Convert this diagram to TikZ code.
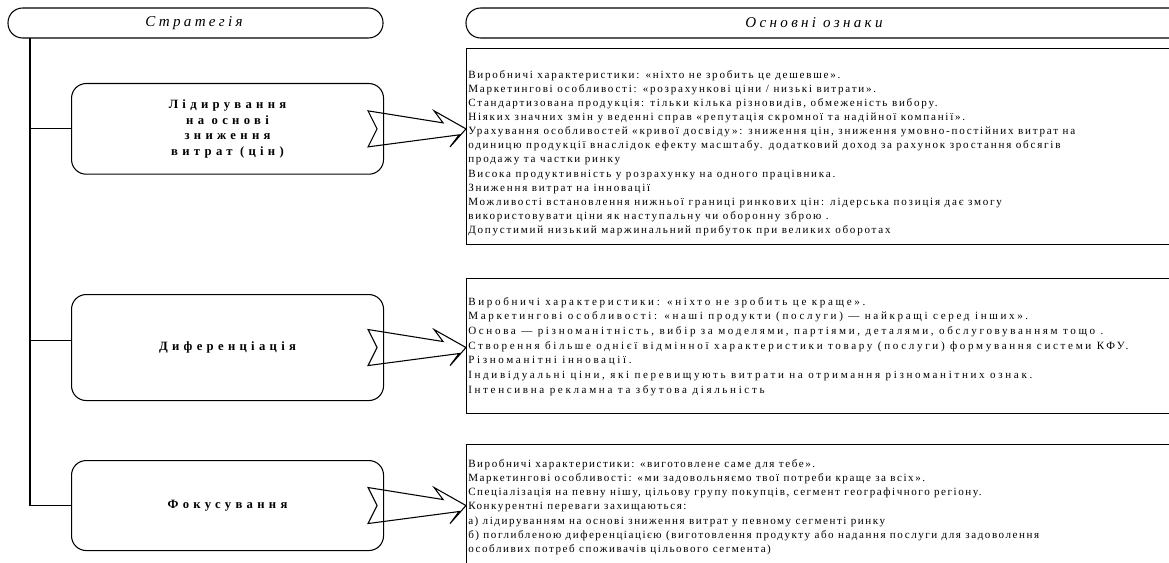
\documentclass[tikz,border=0pt]{standalone}
\usepackage{fontspec}
\setmainfont{Liberation Serif}
\newfontfamily\bodyfont[LetterSpace=16]{Liberation Serif}
\newfontfamily\bodyfontwide[LetterSpace=24]{Liberation Serif}
\newfontfamily\bodyfontnarrow[LetterSpace=14]{Liberation Serif}
\newfontfamily\labelfont[LetterSpace=34]{Liberation Serif}
\newfontfamily\headfont[LetterSpace=22]{Liberation Serif}
\usetikzlibrary{calc}
\tikzset{
  pill/.style={draw, line width=0.8pt, rounded corners=11pt},
  stratbox/.style={draw, line width=0.8pt, rounded corners=11pt},
  infobox/.style={draw, line width=0.8pt},
  bodytext/.style={anchor=north west, inner sep=0pt, align=left,
    font=\bodyfont\fontsize{8.3}{10.6}\selectfont},
  labeltext/.style={align=center, font=\labelfont\bfseries\fontsize{9.5}{11.6}\selectfont},
  headtext/.style={font=\headfont\itshape\fontsize{11.3}{13}\selectfont},
  conn/.style={line width=0.8pt},
  blockarrow/.style={draw, line width=0.8pt, line join=miter}
}
\begin{document}
\begin{tikzpicture}[x=0.75pt,y=-0.75pt]
\useasboundingbox (0,0) rectangle (1169,563);
\clip (0,0) rectangle (1169,563);
% headers
\draw[pill] (8,8) rectangle (383,38);
\node[headtext] (h1) at (194,23) {Стратегія};
\draw[pill] (466,8) rectangle (1190,38);
\node[headtext] (h2) at (814,23) {Основні ознаки};
\coordinate (trunk) at (30,38);
% strategy boxes
\node[stratbox, minimum width=234pt, minimum height=68pt, anchor=north west] (b1) at (71,83) {};
\node[labeltext] (l1) at (b1.center) {Лідирування\\на основі\\зниження\\витрат (цін)};
\node[stratbox, minimum width=234pt, minimum height=79.5pt, anchor=north west] (b2) at (71,294) {};
\node[labeltext] (l2) at (b2.center) {Диференціація};
\node[stratbox, minimum width=234pt, minimum height=67.5pt, anchor=north west] (b3) at (71,460) {};
\node[labeltext] (l3) at (b3.center) {Фокусування};
% trunk and branches
\draw[conn] (trunk) |- (b3.west);
\draw[conn] (b1.west) -- (b1.west -| trunk);
\draw[conn] ($(b2.west)+(0,-7)$) -- ($(b2.west -| trunk)+(0,-7)$);
% info boxes
\node[infobox, minimum width=560pt, minimum height=147pt, anchor=north west] (t1) at (466,48) {};
\node[infobox, minimum width=560pt, minimum height=101pt, anchor=north west] (t2) at (466,278) {};
\node[infobox, minimum width=560pt, minimum height=120pt, anchor=north west] (t3) at (466,444) {};
\node[bodytext] (x1) at (468,70) {Виробничі характеристики: «ніхто не зробить це дешевше».\\
Маркетингові особливості: «розрахункові ціни / низькі витрати».\\
Стандартизована продукція: тільки кілька різновидів, обмеженість вибору.\\
Ніяких значних змін у веденні справ «репутація скромної та надійної компанії».\\
Урахування особливостей «кривої досвіду»: зниження цін, зниження умовно-постійних витрат на\\
одиницю продукції внаслідок ефекту масштабу. додатковий доход за рахунок зростання обсягів\\
продажу та частки ринку\\
Висока продуктивність у розрахунку на одного працівника.\\
Зниження витрат на інновації\\
Можливості встановлення нижньої границі ринкових цін: лідерська позиція дає змогу\\
використовувати ціни як наступальну чи оборонну зброю .\\
Допустимий низький маржинальний прибуток при великих оборотах};
\node[bodytext, font=\bodyfontwide\fontsize{8.3}{11}\selectfont] (x2) at (468,297) {Виробничі характеристики: «ніхто не зробить це краще».\\
Маркетингові особливості: «наші продукти (послуги) — найкращі серед інших».\\
Основа — різноманітність, вибір за моделями, партіями, деталями, обслуговуванням тощо .\\
Створення більше однієї відмінної характеристики товару (послуги) формування системи КФУ.\\
Різноманітні інновації.\\
Індивідуальні ціни, які перевищують витрати на отримання різноманітних ознак.\\
Інтенсивна рекламна та збутова діяльність};
\node[bodytext, font=\bodyfontnarrow\fontsize{8.3}{10.7}\selectfont] (x3) at (468,459) {Виробничі характеристики: «виготовлене саме для тебе».\\
Маркетингові особливості: «ми задовольняємо твої потреби краще за всіх».\\
Спеціалізація на певну нішу, цільову групу покупців, сегмент географічного регіону.\\
Конкурентні переваги захищаються:\\
а) лідируванням на основі зниження витрат у певному сегменті ринку\\
б) поглибленою диференціацією (виготовлення продукту або надання послуги для задоволення\\
особливих потреб споживачів цільового сегмента)};
% block arrows
\foreach \b/\t in {b1/t1,b2/t2,b3/t3}{
  \draw[blockarrow] ($(\b.east)+(-16,-18)$) -- ++(75,12) -- ++(-9,-12)
    -- ($(\b.east -| \t.west)$) -- ($(\b.east)+(66,18)$) -- ++(9,-12)
    -- ($(\b.east)+(-16,18)$) -- ($(\b.east)+(-7,0)$) -- cycle;
}
\end{tikzpicture}
\end{document}
